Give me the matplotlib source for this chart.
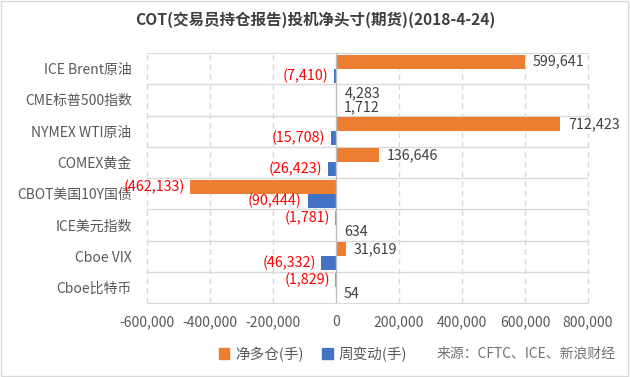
import matplotlib
matplotlib.use("Agg")
import matplotlib.pyplot as plt
from matplotlib.patches import Patch, Rectangle

plt.rcParams['font.family'] = ['Noto Sans CJK SC', 'DejaVu Sans']

categories = ["ICE Brent原油", "CME标普500指数", "NYMEX WTI原油", "COMEX黄金",
              "CBOT美国10Y国债", "ICE美元指数", "Cboe VIX", "Cboe比特币"]
net_long = [599641, 4283, 712423, 136646, -462133, -1781, 31619, -1829]
weekly_change = [-7410, 1712, -15708, -26423, -90444, 634, -46332, 54]
xticks = [-600000, -400000, -200000, 0, 200000, 400000, 600000, 800000]

title = "COT(交易员持仓报告)投机净头寸(期货)(2018-4-24)"
orange = "#ED7D31"
blue = "#4472C4"
grid_c = "#D9D9D9"
text_c = "#595959"

fig = plt.figure(figsize=(6.3, 3.77), dpi=100)
ax = fig.add_axes([147/630, 1-303/377, (588-147)/630, (303-53)/377])

n = len(categories)
ys = list(range(n))
h = 0.45
ax.barh([y - h/2 for y in ys], net_long, height=h, color=orange, zorder=3)
ax.barh([y + h/2 for y in ys], weekly_change, height=h, color=blue, zorder=3)

ax.set_xlim(-600000, 800000)
ax.set_ylim(n - 0.5, -0.5)
ax.set_xticks(xticks)
ax.set_xticklabels([f"{v:,}" for v in xticks], color=text_c, fontsize=10)
ax.set_yticks(ys)
ax.set_yticklabels(categories, color=text_c, fontsize=10)
ax.tick_params(axis='both', length=0)
ax.tick_params(axis='x', pad=9)
ax.tick_params(axis='y', pad=11)

for s in ['left', 'right']:
    ax.spines[s].set_visible(False)
for s in ['top', 'bottom']:
    ax.spines[s].set_color(grid_c)

for b in range(1, n):
    ax.axhline(b - 0.5, color=grid_c, lw=1, zorder=1)
for t in xticks:
    if t == 0:
        continue
    ax.axvline(t, color=grid_c, lw=1, ls=(0, (4, 3)), zorder=1, clip_on=False)
ax.axvline(0, color="#BFBFBF", lw=1, zorder=4)

def fmt(v):
    return f"{v:,}" if v >= 0 else f"({abs(v):,})"

def label(v, y):
    if v >= 0:
        ax.annotate(fmt(v), (v, y), xytext=(5.5, 0), textcoords='offset points',
                    ha='left', va='center', fontsize=10.3, color="#404040", zorder=5)
    else:
        ax.annotate(fmt(v), (v, y), xytext=(-4, 0), textcoords='offset points',
                    ha='right', va='center', fontsize=10.3, color="#FF0000", zorder=5)

for y, v in zip(ys, net_long):
    label(v, y - h/2)
for y, v in zip(ys, weekly_change):
    label(v, y + h/2)

fig.text(0.5, 1 - 20/377, title, ha='center', va='center', fontsize=11.2,
         fontweight='bold', color="#404040")

handles = [Patch(color=orange, label="净多仓(手)"), Patch(color=blue, label="周变动(手)")]
fig.legend(handles=handles, loc='center', bbox_to_anchor=(313/630, 1 - 354/377),
           ncol=2, frameon=False, fontsize=10.5, handlelength=0.7, handleheight=0.7,
           handletextpad=0.4, columnspacing=1.3, labelcolor=text_c)
fig.text(437/630, 1 - 354/377, "来源：CFTC、ICE、新浪财经", ha='left', va='center',
         fontsize=10, color="#767171")

fig.patches.append(Rectangle((0.002, 0.003), 0.995, 0.994, transform=fig.transFigure,
                             fill=False, edgecolor=grid_c, lw=1))

fig.savefig("out.png", dpi=100)
